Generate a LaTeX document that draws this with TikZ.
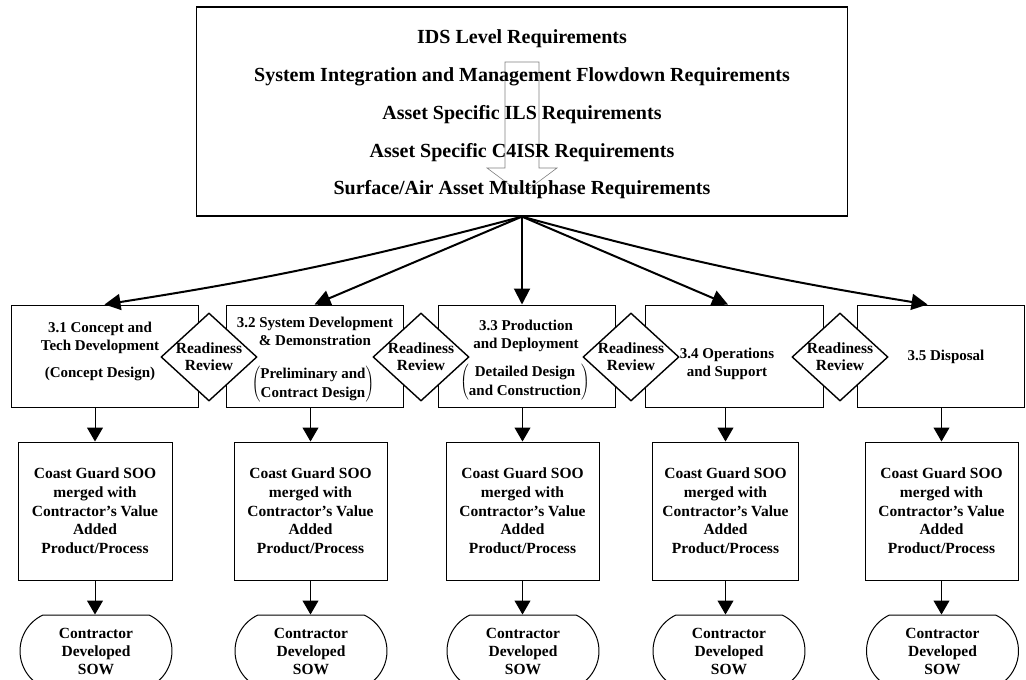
\documentclass[tikz,border=0pt]{standalone}
\usepackage{fontspec}
\setmainfont{Liberation Serif}
\usetikzlibrary{arrows.meta,shapes.geometric,shapes.misc}

\begin{document}
\begin{tikzpicture}[x=1pt,y=-1pt,
  box/.style={draw,line width=1pt,inner sep=0pt},
  txt/.style={align=center,inner sep=0pt,font=\fontsize{15}{18}\selectfont\bfseries},
  paren/.style={inner sep=0pt,font=\fontsize{15}{19}\selectfont\bfseries},
  review/.style={draw,diamond,line width=1.4pt,fill=white,inner sep=-4pt,minimum width=96pt,minimum height=88pt,align=center,font=\fontsize{15.5}{17}\selectfont\bfseries},
  soo/.style={box,align=center,minimum height=138pt,font=\fontsize{15.5}{18.7}\selectfont\bfseries},
  sow/.style={box,rounded rectangle,rounded rectangle arc length=130,align=center,minimum width=152pt,minimum height=72pt,font=\fontsize{15.5}{18}\selectfont\bfseries},
  fan/.style={-{Triangle[width=16pt,length=16pt]},line width=2pt},
  flow/.style={-{Triangle[width=16pt,length=14pt]},line width=1pt}]
\clip (0,0) rectangle (1026,680);

% requirements box
\node[box,line width=1.2pt,minimum width=651pt,minimum height=209pt] (req) at (522,111.5) {};
\draw[gray,line width=0.6pt] (505,62) -- (539,62) -- (539,168) -- (557,168) -- (522,194) -- (487,168) -- (505,168) -- cycle;
\node[align=center,inner sep=0pt,font=\fontsize{20}{37.8}\selectfont\bfseries] (reqlist) at (522,114.5)
  {IDS Level Requirements\\System Integration and Management Flowdown Requirements\\Asset Specific ILS Requirements\\Asset Specific C4ISR Requirements\\Surface/Air Asset Multiphase Requirements};

% phases
\node[box,minimum width=187pt,minimum height=102pt] (p1) at (104.5,356) {};
\node[box,minimum width=177pt,minimum height=102pt] (p2) at (314.5,356) {};
\node[box,minimum width=177pt,minimum height=102pt] (p3) at (526.5,356) {};
\node[box,minimum width=178pt,minimum height=102pt] (p4) at (734,356) {};
\node[box,minimum width=167pt,minimum height=102pt] (p5) at (940.5,356) {};

\node[txt,anchor=north] (t1) at (100,321.8) {3.1 Concept and\\Tech Development};
\node[txt,anchor=base] (n1) at (100,377) {(Concept Design)};
\node[txt,anchor=north] (t2) at (315,316.8) {3.2 System Development\\\& Demonstration};
\node[paren] (n2) at (313,384) {$\left(\vcenter{\hbox{\begin{tabular}{@{}c@{}}Preliminary and\\Contract Design\end{tabular}}}\right)$};
\node[txt,anchor=north] (t3) at (526,319.8) {3.3 Production\\and Deployment};
\node[paren] (n3) at (525,382.5) {$\left(\vcenter{\hbox{\begin{tabular}{@{}c@{}}Detailed Design\\and Construction\end{tabular}}}\right)$};
\node[txt,anchor=north] (t4) at (727,347.8) {3.4 Operations\\and Support};
\node[txt,anchor=base] (t5) at (946,360) {3.5 Disposal};

% readiness reviews
\node[review] (r1) at (209,357) {Readiness\\Review};
\node[review] (r2) at (421,357) {Readiness\\Review};
\node[review] (r3) at (631,357) {Readiness\\Review};
\node[review] (r4) at (840,357) {Readiness\\Review};

% SOO boxes
\node[soo,minimum width=154pt] (c1) at (95,511) {Coast Guard SOO\\merged with\\Contractor's Value\\Added\\Product/Process};
\node[soo,minimum width=153pt] (c2) at (310.5,511) {Coast Guard SOO\\merged with\\Contractor's Value\\Added\\Product/Process};
\node[soo,minimum width=153pt] (c3) at (522.5,511) {Coast Guard SOO\\merged with\\Contractor's Value\\Added\\Product/Process};
\node[soo,minimum width=146pt] (c4) at (725.5,511) {Coast Guard SOO\\merged with\\Contractor's Value\\Added\\Product/Process};
\node[soo,minimum width=153pt] (c5) at (941.5,511) {Coast Guard SOO\\merged with\\Contractor's Value\\Added\\Product/Process};

% SOW
\node[sow] (s1) at (96,651) {Contractor\\Developed\\SOW};
\node[sow] (s2) at (311,651) {Contractor\\Developed\\SOW};
\node[sow] (s3) at (523,651) {Contractor\\Developed\\SOW};
\node[sow] (s4) at (729,651) {Contractor\\Developed\\SOW};
\node[sow] (s5) at (942.5,651) {Contractor\\Developed\\SOW};

% arrows
\draw[fan] (req.south) to[bend left=3] (p1.north);
\draw[fan] (req.south) -- (p2.north);
\draw[fan] (req.south) -- (req.south |- p3.north);
\draw[fan] (req.south) -- ([xshift=-6pt]p4.north);
\draw[fan] (req.south) to[bend right=3] ([xshift=-13pt]p5.north);

\draw[flow] (p1.south -| c1.north) -- (c1.north);
\draw[flow] (p2.south -| c2.north) -- (c2.north);
\draw[flow] (p3.south -| c3.north) -- (c3.north);
\draw[flow] (p4.south -| c4.north) -- (c4.north);
\draw[flow] (p5.south -| c5.north) -- (c5.north);

\draw[flow] (c1.south) -- (c1.south |- s1.north);
\draw[flow] (c2.south) -- (c2.south |- s2.north);
\draw[flow] (c3.south) -- (c3.south |- s3.north);
\draw[flow] (c4.south) -- (c4.south |- s4.north);
\draw[flow] (c5.south) -- (c5.south |- s5.north);
\end{tikzpicture}
\end{document}
